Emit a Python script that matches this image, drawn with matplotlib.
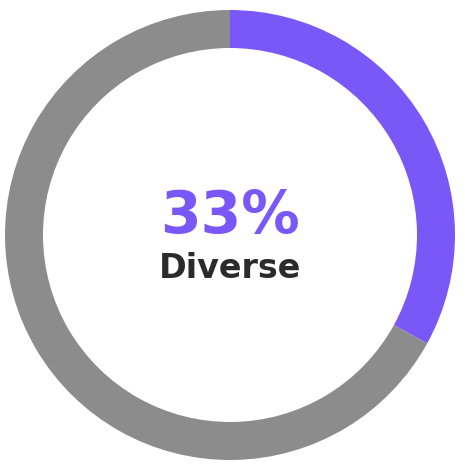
import matplotlib
matplotlib.use('Agg')
import matplotlib.pyplot as plt

# share of the ring
labels = ['Diverse', 'Other']
values = [33, 67]
colors = ['#7A57F7', '#8C8C8C']
big_text = '33%'
small_text = 'Diverse'

fig = plt.figure(figsize=(4.65, 4.68), dpi=100)
ax = fig.add_axes([0, 0, 1, 1])
ax.pie(values, colors=colors, startangle=90, counterclock=False,
       center=(230, 233), radius=225, frame=True,
       wedgeprops=dict(width=38, linewidth=0))
ax.set_xlim(0, 465)
ax.set_ylim(0, 468)
ax.set_aspect('auto')
ax.axis('off')

ax.text(230, 252, big_text, ha='center', va='center', fontsize=42,
        fontweight='heavy', family='DejaVu Sans', color=colors[0])
ax.text(230, 200, small_text, ha='center', va='center', fontsize=24,
        fontweight='bold', family='DejaVu Sans', color='#2B2B2B')

fig.savefig('out.png', dpi=100)
